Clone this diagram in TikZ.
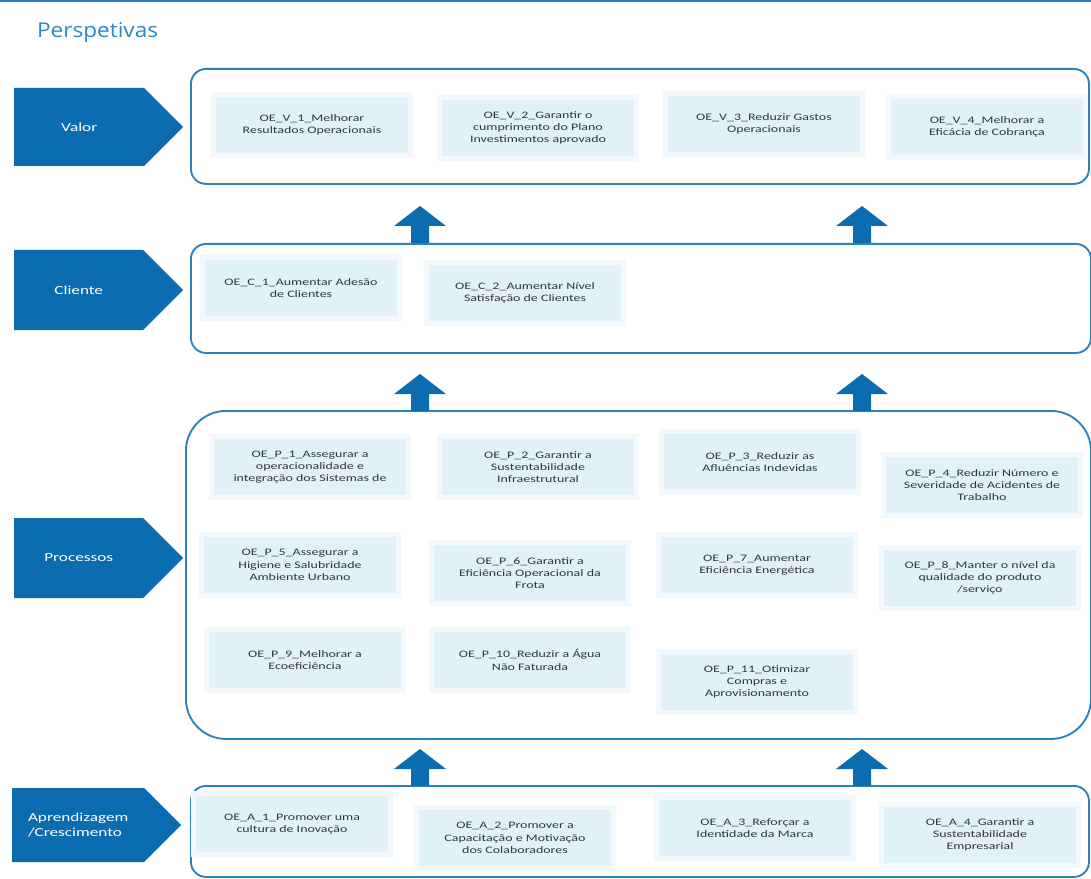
\documentclass[tikz,border=0pt]{standalone}
\usepackage{fontspec}
\setmainfont{Carlito}
\newfontfamily\objfont{Carlito}[FakeStretch=1.4]
\newfontfamily\titlefont{Open Sans}[FakeStretch=1.1]
\usetikzlibrary{shapes.symbols,positioning}
\definecolor{PerspBlue}{RGB}{12,108,176}
\definecolor{PanelBlue}{RGB}{45,130,190}
\definecolor{TitleBlue}{RGB}{40,135,200}
\definecolor{ObjFill}{RGB}{226,240,248}
\definecolor{ObjText}{RGB}{52,54,60}

\begin{document}
\begin{tikzpicture}[x=0.03cm,y=-0.03cm,
    persp/.style={signal,signal to=east,signal pointer angle=90,fill=PerspBlue,
      text=white,font=\objfont\fontsize{10.5}{12}\selectfont,
      minimum width=5.07cm,inner sep=0pt,anchor=west},
    panel/.style={draw=PanelBlue,line width=1.6pt,rounded corners=0.45cm,
      anchor=north west,inner sep=0pt},
    obj/.style={fill=ObjFill,draw=ObjFill!45!white,line width=4pt,text=ObjText,
      align=center,font=\objfont\fontsize{8.5}{10.5}\selectfont,
      minimum width=5.9cm,minimum height=1.85cm,inner sep=1pt}]
      \useasboundingbox (0,0) rectangle (1091,879);
      \draw[line width=2.4pt,PanelBlue] (0,1)--(1091,1);
      \node[anchor=west,text=TitleBlue,font=\titlefont\fontsize{17.5}{20}\selectfont] (titulo) at (33,32) {Perspetivas};

      % valor
      \node[persp,minimum height=2.34cm] (pvalor) at (14,127) {Valor};
      \node[panel,minimum width=26.94cm,minimum height=3.45cm] (valor) at (190,68) {};
      \node[obj] (v1) at (312,125) {OE\_V\_1\_Melhorar\\Resultados Operacionais};
      \node[obj] (v2) at (538,128) {OE\_V\_2\_Garantir o\\cumprimento do Plano\\Investimentos aprovado};
      \node[obj] (v3) at (764,124) {OE\_V\_3\_Reduzir Gastos\\Operacionais};
      \node[obj] (v4) at (987,127) {OE\_V\_4\_Melhorar a\\Eficácia de Cobrança};

      % cliente
      \node[persp,minimum height=2.4cm] (pcliente) at (14,290) {Cliente};
      \node[panel,minimum width=27cm,minimum height=3.27cm] (cliente) at (190,243) {};
      \node[obj] (c1) at (301,288) {OE\_C\_1\_Aumentar Adesão\\de Clientes};
      \node[obj] (c2) at (525,293) {OE\_C\_2\_Aumentar Nível\\Satisfação de Clientes};

      % processos
      \node[persp,minimum height=2.4cm] (pprocessos) at (14,558) {Processos};
      \node[panel,rounded corners=1.2cm,minimum width=27.15cm,minimum height=9.84cm] (processos) at (185,410) {};
      \node[obj] (p1) at (310,467) {OE\_P\_1\_Assegurar a\\operacionalidade e\\integração dos Sistemas de};
      \node[obj] (p2) at (538,467) {OE\_P\_2\_Garantir a\\Sustentabilidade\\Infraestrutural};
      \node[obj] (p3) at (760,462) {OE\_P\_3\_Reduzir as\\Afluências Indevidas};
      \node[obj] (p4) at (982,485) {OE\_P\_4\_Reduzir Número e\\Severidade de Acidentes de\\Trabalho};
      \node[obj] (p5) at (300,565) {OE\_P\_5\_Assegurar a\\Higiene e Salubridade\\Ambiente Urbano};
      \node[obj] (p6) at (530,573) {OE\_P\_6\_Garantir a\\Eficiência Operacional da\\Frota};
      \node[obj] (p7) at (757,565) {OE\_P\_7\_Aumentar\\Eficiência Energética};
      \node[obj] (p8) at (980,578) {OE\_P\_8\_Manter o nível da\\qualidade do produto\\/serviço};
      \node[obj] (p9) at (305,660) {OE\_P\_9\_Melhorar a\\Ecoeficiência};
      \node[obj] (p10) at (530,660) {OE\_P\_10\_Reduzir a Água\\Não Faturada};
      \node[obj] (p11) at (757,682) {OE\_P\_11\_Otimizar\\Compras e\\Aprovisionamento};

      % aprendizagem
      \node[persp,minimum height=2.22cm,align=left] (paprend) at (12,825) {Aprendizagem\\/Crescimento};
      \node[panel,minimum width=26.94cm,minimum height=2.73cm] (aprend) at (190,785) {};
      \node[obj] (a1) at (292,824) {OE\_A\_1\_Promover uma\\cultura de Inovação};
      \node[obj] (a2) at (515,838) {OE\_A\_2\_Promover a\\Capacitação e Motivação\\dos Colaboradores};
      \node[obj] (a3) at (755,828) {OE\_A\_3\_Reforçar a\\Identidade da Marca};
      \node[obj] (a4) at (980,835) {OE\_A\_4\_Garantir a\\Sustentabilidade\\Empresarial};

      % setas entre perspetivas
      \foreach \ay in {243,411,786}
        \foreach \ax in {420,862}
          \fill[PerspBlue] (\ax-9,\ay)--(\ax-9,\ay-17)--(\ax-26,\ay-17)--(\ax,\ay-37)
            --(\ax+26,\ay-17)--(\ax+9,\ay-17)--(\ax+9,\ay)--cycle;
    \end{tikzpicture}
\end{document}
